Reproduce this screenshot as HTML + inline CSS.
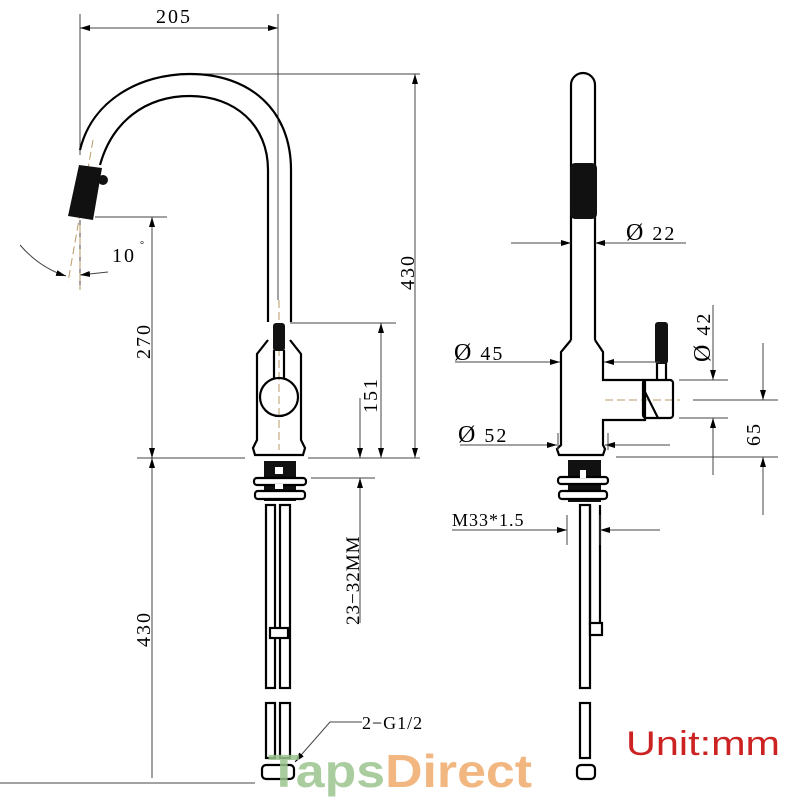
<!DOCTYPE html>
<html><head><meta charset="utf-8"><style>html,body{margin:0;padding:0;background:#fff}svg{display:block}</style></head><body>
<svg width="800" height="800" viewBox="0 0 800 800" xmlns="http://www.w3.org/2000/svg" font-family="'Liberation Serif',serif">
<defs>
<marker id="a" viewBox="0 0 10 6" refX="10" refY="3" markerWidth="10" markerHeight="6" orient="auto-start-reverse" markerUnits="userSpaceOnUse"><path d="M0,0L10,3L0,6z" fill="#000"/></marker>
</defs>
<g stroke="#444" stroke-width="1" fill="none">
<line x1="80" y1="14" x2="80" y2="155"/><line x1="278" y1="14" x2="278" y2="300"/>
<line x1="80" y1="28" x2="278" y2="28" marker-start="url(#a)" marker-end="url(#a)"/>
<line x1="200" y1="74" x2="420" y2="74"/>
<line x1="415" y1="74" x2="415" y2="458" marker-start="url(#a)" marker-end="url(#a)"/>
<line x1="95" y1="217" x2="167" y2="217"/>
<line x1="152" y1="217" x2="152" y2="458" marker-start="url(#a)" marker-end="url(#a)"/>
<line x1="290" y1="323" x2="396" y2="323"/>
<line x1="381" y1="323" x2="381" y2="458" marker-start="url(#a)" marker-end="url(#a)"/>
<line x1="137" y1="458" x2="245" y2="458"/><line x1="308" y1="458" x2="420" y2="458"/>
<line x1="360" y1="398" x2="360" y2="458" marker-end="url(#a)"/>
<line x1="360" y1="478" x2="360" y2="623" marker-start="url(#a)"/>
<line x1="311" y1="478" x2="375" y2="478"/>
<line x1="152" y1="458" x2="152" y2="778" marker-start="url(#a)"/>
<line x1="0" y1="783" x2="255" y2="783"/>
<path d="M20,245 Q40,268 66,276" marker-end="url(#a)"/>
<line x1="108" y1="272" x2="80" y2="275" marker-end="url(#a)"/>
<line x1="80" y1="220" x2="80" y2="290"/>
</g>
<g stroke="#b89a6a" stroke-width="1" stroke-dasharray="8,4" fill="none">
<line x1="93" y1="140" x2="68" y2="282"/><line x1="80" y1="225" x2="80" y2="290"/>
<line x1="279" y1="300" x2="279" y2="450"/>
<line x1="605" y1="400" x2="680" y2="400"/>
</g>
<g stroke="#000" stroke-width="2.2" fill="none">
<path d="M80,150 C92,100 140,74 190,74 C250,74 291,110 291,170 L291,322"/>
<path d="M100,165 C112,122 145,96 190,96 C235,96 268,125 268,170 L268,322"/>
<path d="M268,340 L257,354 L257,440 L253,448 L255,455 L303,455 L305,448 L301,440 L301,354 L290,340"/>
<circle cx="279" cy="397" r="19"/>
<line x1="274" y1="350" x2="274" y2="378"/><line x1="284" y1="350" x2="284" y2="378"/>
</g>
<rect x="273" y="323" width="12" height="28" rx="3" fill="#111"/>
<path d="M79,165 L102,168 L93,220 L68,216 Z" fill="#111"/>
<circle cx="103" cy="180" r="5" fill="#111"/>
<rect x="264" y="461" width="32" height="40" fill="#111"/>
<g stroke="#000" stroke-width="2.2" fill="#fff">
<rect x="254" y="478" width="52" height="7" rx="3"/>
<rect x="255" y="491" width="50" height="8" rx="3"/>
<rect x="266" y="505" width="9" height="183"/><rect x="280" y="505" width="10" height="183"/>
<rect x="266" y="703" width="9" height="55"/><rect x="280" y="703" width="10" height="55"/>
<rect x="270" y="628" width="18" height="10"/>
<rect x="262" y="765" width="32" height="14" rx="4"/>
</g>
<rect x="275" y="467" width="8" height="7" fill="#fff"/><rect x="275" y="484" width="8" height="5" fill="#fff"/>
<g stroke="#000" stroke-width="2.2" fill="none">
<path d="M571,340 L571,85 A12,12 0 0 1 595,85 L595,340"/>
<path d="M571,340 L561,352 L561,445 L557,449 L559,455 L603,455 L605,449 L603,445 L603,420 L645,420 L645,380 L603,380 L603,352 L595,340"/>
<rect x="643" y="380" width="30" height="38" rx="3"/>
<path d="M645,392 L658,418"/>
<line x1="657" y1="362" x2="657" y2="380"/><line x1="666" y1="362" x2="666" y2="380"/>
</g>
<rect x="570" y="163" width="27" height="56" rx="5" fill="#111"/>
<rect x="655" y="322" width="13" height="42" rx="3" fill="#111"/>
<rect x="568" y="460" width="33" height="42" fill="#111"/>
<g stroke="#000" stroke-width="2.2" fill="#fff">
<rect x="558" y="477" width="50" height="7" rx="3"/>
<rect x="559" y="491" width="48" height="8" rx="3"/>
<rect x="580" y="505" width="10" height="183"/>
<line x1="590" y1="505" x2="590" y2="625" fill="none"/><line x1="600" y1="505" x2="600" y2="625" fill="none"/>
<rect x="590" y="623" width="12" height="12"/>
<rect x="580" y="703" width="10" height="55"/>
<rect x="577" y="765" width="18" height="14" rx="4"/>
</g>
<rect x="580" y="470" width="6" height="8" fill="#fff"/>
<g stroke="#444" stroke-width="1" fill="none">
<line x1="511" y1="243" x2="571" y2="243" marker-end="url(#a)"/><line x1="595" y1="243" x2="686" y2="243" marker-start="url(#a)"/>
<line x1="455" y1="362" x2="560" y2="362" marker-end="url(#a)"/><line x1="604" y1="362" x2="660" y2="362" marker-start="url(#a)"/>
<line x1="460" y1="445" x2="557" y2="445" marker-end="url(#a)"/><line x1="605" y1="445" x2="670" y2="445" marker-start="url(#a)"/>
<line x1="558" y1="433" x2="558" y2="450"/><line x1="608" y1="433" x2="608" y2="450"/>
<line x1="713" y1="305" x2="713" y2="380" marker-end="url(#a)"/><line x1="713" y1="418" x2="713" y2="475" marker-start="url(#a)"/>
<line x1="679" y1="380" x2="728" y2="380"/><line x1="679" y1="418" x2="728" y2="418"/>
<line x1="693" y1="400" x2="778" y2="400"/><line x1="616" y1="457" x2="778" y2="457"/>
<line x1="763" y1="343" x2="763" y2="400" marker-end="url(#a)"/><line x1="763" y1="457" x2="763" y2="515" marker-start="url(#a)"/>
<line x1="452" y1="530" x2="567" y2="530" marker-end="url(#a)"/><line x1="600" y1="530" x2="660" y2="530" marker-start="url(#a)"/>
<line x1="567" y1="515" x2="567" y2="545"/><line x1="600" y1="515" x2="600" y2="545"/>
<polyline points="362,722 330,722 295,762" marker-end="url(#a)"/>
</g>
<g font-size="20" fill="#000" letter-spacing="2">
<text x="156" y="23">205</text>
<text x="112" y="262">10</text><text x="140" y="248" font-size="10">°</text>
<text transform="translate(414,290) rotate(-90)">430</text>
<text transform="translate(150,359) rotate(-90)">270</text>
<text transform="translate(377,413) rotate(-90)">151</text>
<text transform="translate(359,625) rotate(-90)" font-size="19" letter-spacing="1">23−32MM</text>
<text transform="translate(150,647) rotate(-90)">430</text>
<text x="362" y="729" font-size="18" letter-spacing="1">2−G1/2</text>
<text x="626" y="240"><tspan font-size="24">Ø</tspan> 22</text>
<text x="454" y="360"><tspan font-size="24">Ø</tspan> 45</text>
<text x="458" y="442"><tspan font-size="24">Ø</tspan> 52</text>
<text transform="translate(710,362) rotate(-90)"><tspan font-size="24">Ø</tspan> 42</text>
<text transform="translate(760,446) rotate(-90)">65</text>
<text x="452" y="526" font-size="18" letter-spacing="1">M33*1.5</text>
</g>
<text x="626" y="755" font-family="'Liberation Sans',sans-serif" font-size="34" fill="#cc2222" textLength="154" lengthAdjust="spacingAndGlyphs">Unit:mm</text>
<text x="268" y="787" font-family="'Liberation Sans',sans-serif" font-weight="bold" font-size="46" textLength="264" lengthAdjust="spacingAndGlyphs" opacity="0.85"><tspan fill="#9cc58f">Taps</tspan><tspan fill="#f0ab6c">Direct</tspan></text>
</svg>
</body></html>
